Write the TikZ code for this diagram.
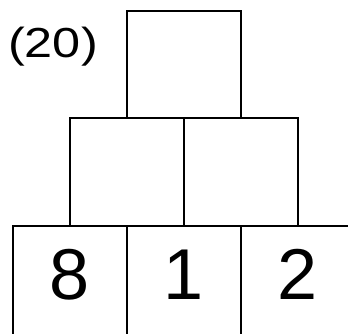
\documentclass[tikz,border=0pt]{standalone}
\usepackage{fontspec}
\setmainfont{Liberation Sans}
\usetikzlibrary{positioning}
\tikzset{
    cell/.style={draw, line width=2.2pt, minimum width=114pt, minimum height=107.5pt, inner sep=0pt, outer sep=0pt},
    digit/.style={cell, minimum height=112pt, font=\fontsize{72}{72}\selectfont}
}
\newcommand{\lift}[1]{\raisebox{15pt}{#1}}
\begin{document}
\begin{tikzpicture}[x=1pt, y=-1pt]
    \useasboundingbox (0,0) rectangle (348,334);
    \clip (0,0) rectangle (348,334);
    \node[font=\fontsize{42}{42}\selectfont, xscale=1.2, transform shape] (num) at (53,47) {(20)};
    % top of the pyramid
    \node[cell] (top) at (184,64.5) {};
    % middle row
    \node[cell, anchor=north east] (midL) at (top.south) {};
    \node[cell, anchor=north west] (midR) at (top.south) {};
    % bottom row with the given numbers
    \node[digit, anchor=north] (botM) at (midL.south east) {\lift{1}};
    \node[digit, left=0pt of botM] (botL) {\lift{8}};
    \node[digit, right=0pt of botM] (botR) {\lift{2}};
\end{tikzpicture}
\end{document}
